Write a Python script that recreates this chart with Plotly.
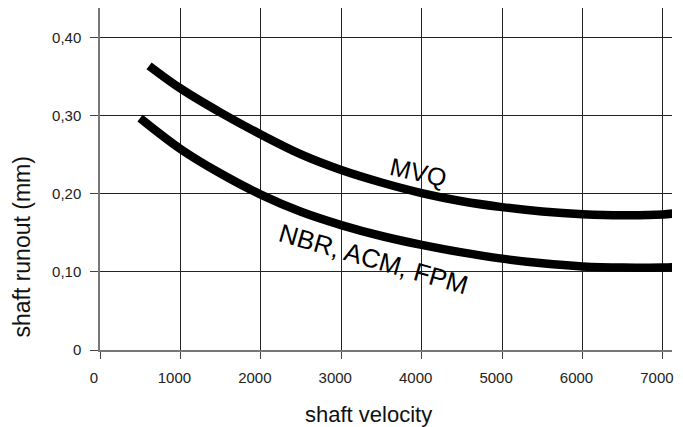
import plotly.graph_objects as go

# shaft velocity vs. permissible shaft runout
mvq_x = [610, 1000, 1500, 2000, 2500, 3000, 3500, 4000, 4500, 5000, 5500, 6000, 6500, 7000, 7140]
mvq_y = [0.364, 0.335, 0.304, 0.276, 0.2505, 0.2305, 0.2145, 0.201, 0.1905, 0.183, 0.1775, 0.174, 0.1725, 0.1735, 0.175]

nbr_x = [498, 1000, 1500, 2000, 2500, 3000, 3500, 4000, 4500, 5000, 5500, 6000, 6500, 7000, 7120]
nbr_y = [0.297, 0.2575, 0.226, 0.199, 0.177, 0.160, 0.146, 0.1346, 0.125, 0.117, 0.111, 0.107, 0.1055, 0.1057, 0.106]

y_ticks = [0, 0.1, 0.2, 0.3, 0.4]
y_labels = ["0", "0,10", "0,20", "0,30", "0,40"]
x_ticks = [0, 1000, 2000, 3000, 4000, 5000, 6000, 7000]

font = "Liberation Sans, Arial, Helvetica, sans-serif"

fig = go.Figure()
fig.add_trace(go.Scatter(x=mvq_x, y=mvq_y, mode="lines", name="MVQ",
                         line=dict(color="black", width=8.5, shape="spline")))
fig.add_trace(go.Scatter(x=nbr_x, y=nbr_y, mode="lines", name="NBR, ACM, FPM",
                         line=dict(color="black", width=8.5, shape="spline")))

# curve labels
fig.add_annotation(x=3959, y=0.2285, text="MVQ", showarrow=False, textangle=13,
                   font=dict(size=25, color="black", family=font))
fig.add_annotation(x=3400, y=0.1167, text="NBR, ACM, FPM", showarrow=False, textangle=16,
                   font=dict(size=26, color="black", family=font))

# axis titles
fig.add_annotation(xref="paper", yref="paper", x=0.470, y=-0.19, text="shaft velocity",
                   showarrow=False, xanchor="center", yanchor="middle",
                   font=dict(size=22, color="#111", family=font))
fig.add_annotation(xref="paper", yref="paper", x=-0.136, y=0.303, text="shaft runout (mm)",
                   showarrow=False, textangle=-90, xanchor="center", yanchor="middle",
                   font=dict(size=23, color="#111", family=font))

# page body has an 8px margin, so the figure is 8px smaller each way
fig.update_layout(
    width=675, height=419,
    margin=dict(l=92, r=11, t=0, b=77, autoexpand=False),
    plot_bgcolor="white", paper_bgcolor="white",
    showlegend=False,
    font=dict(family=font, size=15, color="#222"),
)
fig.update_xaxes(range=[0, 7113], tickvals=x_ticks, showgrid=True, gridcolor="#222", gridwidth=1,
                 zeroline=False, showline=True, linecolor="#777", linewidth=1.5,
                 ticks="outside", ticklen=7, tickcolor="#444", ticklabelstandoff=6,
                 ticklabelshift=-6)
fig.update_yaxes(range=[0, 0.438], tickvals=y_ticks, ticktext=y_labels, showgrid=True,
                 gridcolor="#222", gridwidth=1, zeroline=False, showline=True,
                 linecolor="#777", linewidth=1.5, ticks="outside", ticklen=8,
                 tickcolor="#444", ticklabelstandoff=6)

fig.write_html("out.html")
